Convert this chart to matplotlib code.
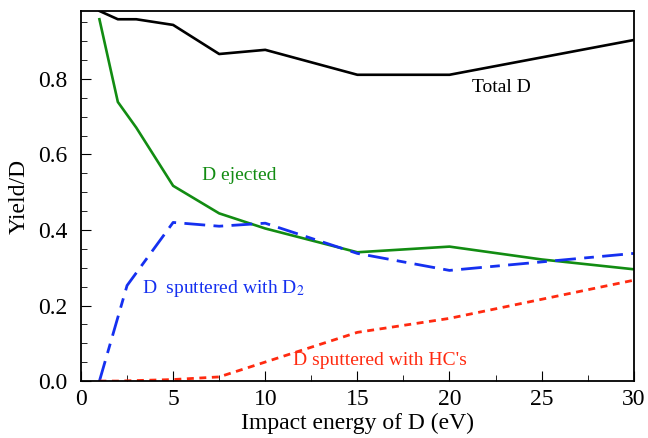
import matplotlib
matplotlib.use('Agg')
import matplotlib.pyplot as plt
from matplotlib.ticker import MultipleLocator, FormatStrFormatter

plt.rcParams['font.family'] = ['Liberation Serif', 'DejaVu Serif']
plt.rcParams['mathtext.fontset'] = 'stix'
plt.rcParams['lines.scale_dashes'] = False

# impact energy (eV)
energy = [1, 2, 3, 5, 7.5, 10, 15, 20, 30]
total_d = [0.98, 0.958, 0.958, 0.943, 0.866, 0.877, 0.811, 0.811, 0.903]

energy_ej = [1, 2, 3, 5, 7.5, 10, 15, 20, 25, 30]
d_ejected = [0.958, 0.739, 0.671, 0.517, 0.444, 0.404, 0.341, 0.356, 0.322, 0.296]

energy_d2 = [1, 2.5, 5, 7.5, 10, 15, 20, 30]
d_sput_d2 = [0.0, 0.253, 0.42, 0.41, 0.418, 0.338, 0.293, 0.338]

energy_hc = [1, 2, 5, 7.5, 15, 20, 30]
d_sput_hc = [0.0, 0.0, 0.004, 0.011, 0.129, 0.166, 0.267]

fig = plt.figure(figsize=(6.48, 4.38), dpi=100)
ax = fig.add_axes([0.125, 0.130, 0.853, 0.845])

ax.plot(energy, total_d, color='black', lw=1.9)
ax.plot(energy_ej, d_ejected, color='#128c12', lw=1.9)
ax.plot(energy_d2, d_sput_d2, color='#1530f0', lw=2.0, dashes=(15, 6, 7, 6))
ax.plot(energy_hc, d_sput_hc, color='#ff2a10', lw=2.0, dashes=(5, 4))

ax.text(22.8, 0.776, 'Total D', color='black', fontsize=14, ha='center', va='center')
ax.text(8.6, 0.544, 'D ejected', color='#128c12', fontsize=14, ha='center', va='center')
ax.text(7.7, 0.245, r'D  sputtered with D$_2$', color='#1530f0', fontsize=14, ha='center', va='center')
ax.text(16.2, 0.055, "D sputtered with HC's", color='#ff2a10', fontsize=14, ha='center', va='center')

ax.set_xlim(0, 30)
ax.set_ylim(0, 0.98)
ax.xaxis.set_major_locator(MultipleLocator(5))
ax.xaxis.set_minor_locator(MultipleLocator(2.5))
ax.yaxis.set_major_locator(MultipleLocator(0.2))
ax.yaxis.set_minor_locator(MultipleLocator(0.05))
ax.yaxis.set_major_formatter(FormatStrFormatter('%.1f'))
ax.tick_params(which='both', direction='in', top=False, right=False, labelsize=17)
ax.tick_params(which='major', length=7)
ax.tick_params(which='minor', length=4)
ax.tick_params(axis='x', pad=6)
ax.tick_params(axis='y', pad=10)
for s in ax.spines.values():
    s.set_linewidth(1.3)

ax.set_xlabel('Impact energy of D (eV)', fontsize=17, labelpad=2)
ax.set_ylabel('Yield/D', fontsize=17, labelpad=6)

fig.savefig('out.png', dpi=100)
